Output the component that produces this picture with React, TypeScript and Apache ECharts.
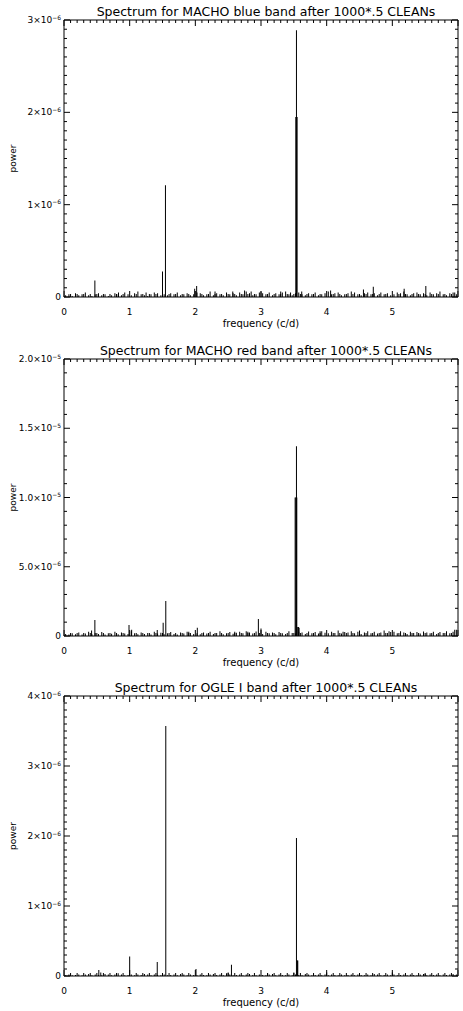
import React, { useEffect, useRef } from 'react';
import * as echarts from 'echarts';

// ---------- texts ----------
const TITLES = [
  'Spectrum for MACHO blue band after 1000*.5 CLEANs',
  'Spectrum for MACHO red band after 1000*.5 CLEANs',
  'Spectrum for OGLE I band after 1000*.5 CLEANs',
];
const X_TICK_LABELS = ['0', '1', '2', '3', '4', '5', ''];
// "mantissa^exponent"
const Y1_TICK_LABELS = ['0', '1×10^−6', '2×10^−6', '3×10^−6'];
const Y2_TICK_LABELS = ['0', '5.0×10^−6', '1.0×10^−5', '1.5×10^−5', '2.0×10^−5'];
const Y3_TICK_LABELS = ['0', '1×10^−6', '2×10^−6', '3×10^−6', '4×10^−6'];

// ---------- data (power in units of 1e-6) ----------
// noise floor, one value per 0.05 c/d bin starting at 0.025 c/d
const NOISE_BLUE = [
  0.02, 0.03, 0.01, 0.04, 0.02, 0.03, 0.05, 0.02, 0.01, 0.03,
  0.04, 0.02, 0.03, 0.01, 0.02, 0.04, 0.03, 0.02, 0.05, 0.03,
  0.02, 0.04, 0.06, 0.03, 0.02, 0.01, 0.03, 0.05, 0.04, 0.02,
  0.03, 0.02, 0.04, 0.03, 0.05, 0.02, 0.03, 0.04, 0.02, 0.03,
  0.05, 0.04, 0.02, 0.03, 0.06, 0.02, 0.04, 0.03, 0.02, 0.05,
  0.03, 0.04, 0.02, 0.05, 0.03, 0.06, 0.04, 0.02, 0.03, 0.05,
  0.04, 0.03, 0.05, 0.02, 0.04, 0.03, 0.05, 0.06, 0.03, 0.02,
  0.04, 0.05, 0.03, 0.02, 0.04, 0.03, 0.05, 0.02, 0.03, 0.04,
  0.06, 0.03, 0.04, 0.05, 0.02, 0.03, 0.04, 0.06, 0.05, 0.03,
  0.02, 0.04, 0.05, 0.03, 0.04, 0.02, 0.05, 0.03, 0.04, 0.02,
  0.03, 0.05, 0.04, 0.06, 0.03, 0.02, 0.04, 0.05, 0.03, 0.04,
  0.02, 0.05, 0.03, 0.04, 0.06, 0.03, 0.02, 0.04, 0.05, 0.03,
];
const PEAKS_BLUE: [number, number][] = [
  [0.47, 0.18], [0.83, 0.05], [1.25, 0.05], [1.5, 0.275], [1.545, 1.21],
  [1.99, 0.09], [2.02, 0.12], [2.3, 0.06], [2.57, 0.06], [2.75, 0.07],
  [2.85, 0.06], [3.0, 0.06], [3.3, 0.06], [3.45, 0.05], [3.53, 1.95],
  [3.54, 2.89], [3.55, 1.95], [3.62, 0.06], [4.06, 0.07], [4.56, 0.08],
  [4.71, 0.11], [5.18, 0.09], [5.51, 0.12], [5.95, 0.05],
];

const NOISE_RED = [
  0.15, 0.1, 0.2, 0.12, 0.25, 0.1, 0.18, 0.3, 0.12, 0.22,
  0.15, 0.28, 0.1, 0.2, 0.16, 0.3, 0.12, 0.25, 0.18, 0.14,
  0.35, 0.2, 0.12, 0.26, 0.15, 0.22, 0.1, 0.3, 0.18, 0.24,
  0.12, 0.2, 0.28, 0.15, 0.1, 0.25, 0.18, 0.3, 0.22, 0.14,
  0.2, 0.12, 0.26, 0.18, 0.3, 0.15, 0.22, 0.35, 0.12, 0.2,
  0.28, 0.16, 0.24, 0.3, 0.2, 0.35, 0.25, 0.18, 0.32, 0.22,
  0.15, 0.3, 0.2, 0.26, 0.12, 0.28, 0.2, 0.15, 0.35, 0.22,
  0.18, 0.3, 0.25, 0.15, 0.32, 0.2, 0.28, 0.18, 0.35, 0.24,
  0.2, 0.3, 0.22, 0.4, 0.18, 0.28, 0.25, 0.35, 0.2, 0.3,
  0.15, 0.26, 0.35, 0.2, 0.3, 0.18, 0.25, 0.4, 0.22, 0.28,
  0.3, 0.2, 0.35, 0.25, 0.15, 0.3, 0.22, 0.28, 0.18, 0.32,
  0.25, 0.2, 0.3, 0.15, 0.28, 0.22, 0.35, 0.2, 0.3, 0.45,
];
const PEAKS_RED: [number, number][] = [
  [0.42, 0.4], [0.47, 1.15], [0.99, 0.8], [1.03, 0.45], [1.42, 0.43],
  [1.51, 0.96], [1.55, 2.52], [1.9, 0.3], [2.03, 0.6], [2.6, 0.3],
  [2.8, 0.3], [2.96, 1.22], [3.0, 0.55], [3.52, 10.0], [3.53, 10.0],
  [3.54, 13.7], [3.545, 10.0], [3.56, 0.65], [3.57, 0.65], [3.58, 0.6],
  [3.9, 0.35], [4.25, 0.3], [4.5, 0.4], [4.95, 0.35], [5.95, 0.45],
];

const NOISE_OGLE = [
  0.01, 0.02, 0.01, 0.015, 0.02, 0.01, 0.02, 0.03, 0.01, 0.02,
  0.015, 0.01, 0.03, 0.02, 0.01, 0.02, 0.04, 0.02, 0.01, 0.015,
  0.02, 0.01, 0.02, 0.015, 0.03, 0.02, 0.01, 0.02, 0.015, 0.01,
  0.02, 0.01, 0.015, 0.02, 0.01, 0.03, 0.02, 0.01, 0.02, 0.015,
  0.01, 0.02, 0.015, 0.01, 0.02, 0.03, 0.015, 0.02, 0.01, 0.04,
  0.02, 0.01, 0.015, 0.02, 0.01, 0.02, 0.03, 0.015, 0.01, 0.02,
  0.015, 0.01, 0.02, 0.03, 0.01, 0.02, 0.015, 0.01, 0.02, 0.01,
  0.02, 0.015, 0.01, 0.03, 0.02, 0.01, 0.015, 0.02, 0.01, 0.02,
  0.01, 0.02, 0.015, 0.01, 0.02, 0.01, 0.015, 0.02, 0.01, 0.02,
  0.015, 0.01, 0.02, 0.01, 0.03, 0.02, 0.01, 0.015, 0.02, 0.01,
  0.02, 0.01, 0.015, 0.02, 0.01, 0.02, 0.015, 0.01, 0.02, 0.03,
  0.01, 0.02, 0.015, 0.02, 0.01, 0.02, 0.015, 0.02, 0.03, 0.02,
];
const PEAKS_OGLE: [number, number][] = [
  [0.53, 0.086], [0.56, 0.05], [1.0, 0.28], [1.42, 0.2], [1.55, 3.57],
  [2.01, 0.1], [2.5, 0.05], [2.55, 0.16], [3.1, 0.04], [3.5, 0.05],
  [3.54, 1.97], [3.555, 0.22], [3.56, 0.22], [4.0, 0.05], [4.5, 0.03],
  [5.0, 0.05], [5.5, 0.03],
];

const NOISE_START = 0.025;
const NOISE_STEP = 0.05;
const UNIT = 1e-6;

function buildData(noise: number[], peaks: [number, number][]) {
  const out: [number, number][] = noise.map((v, i) => [
    +(NOISE_START + i * NOISE_STEP).toFixed(4),
    v * UNIT,
  ]);
  peaks.forEach(([f, p]) => out.push([f, p * UNIT]));
  return out;
}

function toRich(label: string) {
  if (!label.includes('^')) return label;
  const [m, e] = label.split('^');
  return `{b|${m}}{s|${e}}`;
}

const FONT = 'DejaVu Sans';
const X_MAX = 6;
const X_MAJOR = 1;
const X_MINOR_PER_MAJOR = 10;

const PANELS = [
  { title: TITLES[0], top: 20, height: 277, max: 3e-6, interval: 1e-6, minorPerMajor: 10, labels: Y1_TICK_LABELS, data: buildData(NOISE_BLUE, PEAKS_BLUE) },
  { title: TITLES[1], top: 359, height: 277, max: 2e-5, interval: 5e-6, minorPerMajor: 5, labels: Y2_TICK_LABELS, data: buildData(NOISE_RED, PEAKS_RED) },
  { title: TITLES[2], top: 696, height: 280, max: 4e-6, interval: 1e-6, minorPerMajor: 10, labels: Y3_TICK_LABELS, data: buildData(NOISE_OGLE, PEAKS_OGLE) },
];

const LEFT = 64;
const WIDTH = 394;
const MAJOR_LEN = 6;
const MINOR_LEN = 3;

const hidden = {
  show: false,
  axisLine: { show: false },
  axisTick: { show: false },
  axisLabel: { show: false },
  splitLine: { show: false },
};

export default function App() {
  const ref = useRef<HTMLDivElement>(null);

  useEffect(() => {
    if (!ref.current) return;
    const chart = echarts.init(ref.current, undefined, { renderer: 'svg' });

    const grid: any[] = [];
    const xAxis: any[] = [];
    const yAxis: any[] = [];
    const series: any[] = [];
    const title: any[] = [];

    PANELS.forEach((p) => {
      const rect = {
        left: LEFT,
        width: WIDTH,
        top: p.top,
        height: p.height,
        containLabel: false,
        outerBoundsMode: 'none',
      };
      title.push({
        text: p.title,
        left: LEFT + WIDTH / 2,
        top: p.top - 20,
        textAlign: 'center',
        textStyle: { fontFamily: FONT, fontSize: 12.5, fontWeight: 'normal', color: '#000' },
      });

      // tick positions (data space)
      const nx = Math.round((X_MAX / X_MAJOR) * X_MINOR_PER_MAJOR);
      const xTicks: { v: number; major: boolean }[] = [];
      for (let k = 0; k <= nx; k++) {
        xTicks.push({ v: (k * X_MAJOR) / X_MINOR_PER_MAJOR, major: k % X_MINOR_PER_MAJOR === 0 });
      }
      const ny = Math.round((p.max / p.interval) * p.minorPerMajor);
      const yCats: string[] = [];
      const yLens: number[] = [];
      for (let k = 0; k <= ny; k++) {
        yCats.push(String(k));
        const major = k % p.minorPerMajor === 0;
        yLens.push(((major ? MAJOR_LEN : MINOR_LEN) / WIDTH) * X_MAX);
      }
      const xTickData = xTicks.map((t) => [t.v, ((t.major ? MAJOR_LEN : MINOR_LEN) / p.height) * p.max]);

      // ---- grid A: main plot with frame, labels, spectrum and bottom ticks
      const gA = grid.length;
      grid.push({ ...rect, show: true, borderColor: '#000', borderWidth: 1, backgroundColor: 'transparent' });
      const xA = xAxis.length;
      xAxis.push({
        type: 'value',
        gridIndex: gA,
        min: 0,
        max: X_MAX,
        interval: X_MAJOR,
        position: 'bottom',
        axisLine: { show: false },
        axisTick: { show: false },
        splitLine: { show: false },
        name: 'frequency (c/d)',
        nameLocation: 'middle',
        nameGap: 21,
        nameMoveOverlap: false,
        nameTextStyle: { fontFamily: FONT, fontSize: 10, color: '#000' },
        axisLabel: {
          show: true,
          margin: 10,
          fontFamily: FONT,
          fontSize: 9,
          color: '#000',
          formatter: (_v: number, idx: number) => X_TICK_LABELS[idx] ?? '',
        },
      });
      const yA = yAxis.length;
      yAxis.push({
        type: 'value',
        gridIndex: gA,
        min: 0,
        max: p.max,
        interval: p.interval,
        position: 'left',
        axisLine: { show: false },
        axisTick: { show: false },
        splitLine: { show: false },
        name: 'power',
        nameLocation: 'middle',
        nameGap: 47,
        nameMoveOverlap: false,
        nameTextStyle: { fontFamily: FONT, fontSize: 9, color: '#000' },
        axisLabel: {
          show: true,
          margin: 3,
          fontFamily: FONT,
          fontSize: 9,
          color: '#000',
          formatter: (_v: number, idx: number) => toRich(p.labels[idx] ?? ''),
          rich: {
            b: { fontFamily: FONT, fontSize: 9, color: '#000' },
            s: { fontFamily: FONT, fontSize: 6, color: '#000', padding: [0, 0, 6, 0] },
          },
        },
      });
      series.push({
        type: 'bar',
        xAxisIndex: xA,
        yAxisIndex: yA,
        data: p.data,
        barWidth: 1,
        barGap: '-100%',
        itemStyle: { color: '#000' },
        silent: true,
      });
      series.push({
        type: 'bar',
        xAxisIndex: xA,
        yAxisIndex: yA,
        data: xTickData,
        barWidth: 1,
        barGap: '-100%',
        itemStyle: { color: '#000' },
        silent: true,
      });

      // ---- grid B: top ticks (y inverted so bars hang from the top edge)
      const gB = grid.length;
      grid.push({ ...rect, show: false });
      const xB = xAxis.length;
      xAxis.push({ ...hidden, type: 'value', gridIndex: gB, min: 0, max: X_MAX });
      const yB = yAxis.length;
      yAxis.push({ ...hidden, type: 'value', gridIndex: gB, min: 0, max: p.max, inverse: true });
      series.push({
        type: 'bar',
        xAxisIndex: xB,
        yAxisIndex: yB,
        data: xTickData,
        barWidth: 1,
        itemStyle: { color: '#000' },
        silent: true,
      });

      // ---- grid C: left ticks (horizontal bars from the left edge)
      const gC = grid.length;
      grid.push({ ...rect, show: false });
      const xC = xAxis.length;
      xAxis.push({ ...hidden, type: 'value', gridIndex: gC, min: 0, max: X_MAX });
      const yC = yAxis.length;
      yAxis.push({ ...hidden, type: 'category', gridIndex: gC, data: yCats, boundaryGap: false });
      series.push({
        type: 'bar',
        xAxisIndex: xC,
        yAxisIndex: yC,
        data: yLens,
        barWidth: 1,
        itemStyle: { color: '#000' },
        silent: true,
      });

      // ---- grid D: right ticks (x inverted so bars grow from the right edge)
      const gD = grid.length;
      grid.push({ ...rect, show: false });
      const xD = xAxis.length;
      xAxis.push({ ...hidden, type: 'value', gridIndex: gD, min: 0, max: X_MAX, inverse: true });
      const yD = yAxis.length;
      yAxis.push({ ...hidden, type: 'category', gridIndex: gD, data: yCats, boundaryGap: false });
      series.push({
        type: 'bar',
        xAxisIndex: xD,
        yAxisIndex: yD,
        data: yLens,
        barWidth: 1,
        itemStyle: { color: '#000' },
        silent: true,
      });
    });

    chart.setOption({
      animation: false,
      backgroundColor: '#fff',
      title,
      grid,
      xAxis,
      yAxis,
      series,
    });

    return () => chart.dispose();
  }, []);

  return (
    <div
      ref={ref}
      style={{ position: 'absolute', left: 0, top: 0, width: 463, height: 1011, background: '#fff' }}
    />
  );
}
